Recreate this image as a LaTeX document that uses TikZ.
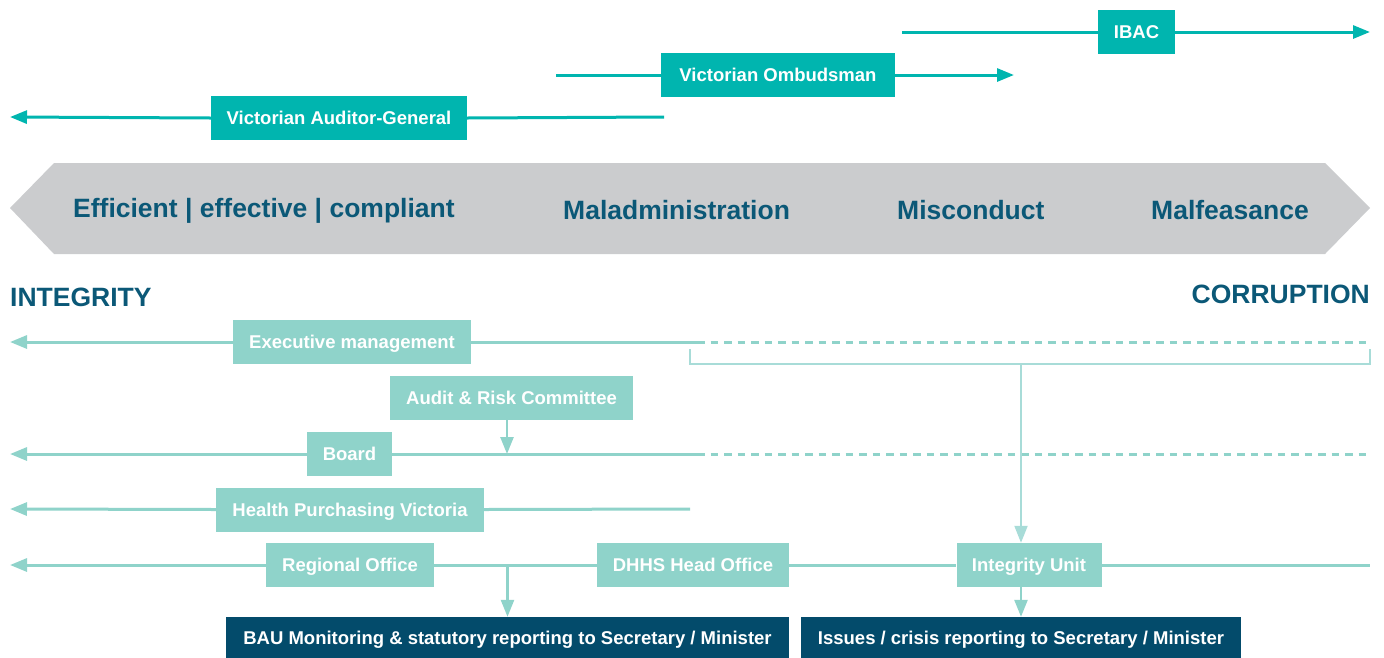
\documentclass[tikz,border=0pt]{standalone}
\usepackage{fontspec}
\setmainfont{Liberation Sans}
\usetikzlibrary{arrows.meta}
\definecolor{teal}{HTML}{00B5AF}
\definecolor{lteal}{HTML}{8FD3CA}
\definecolor{pteal}{HTML}{A8DCD8}
\definecolor{navy}{HTML}{034B6B}
\definecolor{band}{HTML}{CBCCCE}
\definecolor{bandtext}{HTML}{0B5877}
\tikzset{
  box/.style={inner sep=0pt, text=white, text height=16.6pt, text depth=3.4pt,
    font=\fontsize{18.5}{20}\selectfont\bfseries},
  topbox/.style={box, fill=teal},
  rolebox/.style={box, fill=lteal},
  reportbox/.style={box, fill=navy},
  tip/.style={-{Triangle[length=17pt,width=13pt]}},
  topline/.style={draw=teal, line width=3pt},
  roleline/.style={draw=lteal, line width=3pt},
  linkline/.style={draw=pteal, line width=2pt},
  dashline/.style={roleline, dash pattern=on 7.5pt off 6pt},
  bandlabel/.style={inner sep=0pt, anchor=base west, text=bandtext, font=\fontsize{26.5}{28}\selectfont\bfseries},
}
\begin{document}
\begin{tikzpicture}[x=1pt,y=-1pt]
\useasboundingbox (0,0) rectangle (1384,657);

% ---- oversight bodies ----
\node[topbox, minimum width=77pt, minimum height=44pt] (ibac) at (1136.5,32) {IBAC};
\node[topbox, minimum width=234pt, minimum height=44pt] (omb) at (778,75) {Victorian Ombudsman};
\node[topbox, minimum width=256pt, minimum height=44pt] (vag) at (339,118) {Victorian Auditor-General};

\coordinate (ibacL) at (902,32);
\coordinate (ibacR) at (1370,32);
\coordinate (ombL) at (556,75);
\coordinate (ombR) at (1014,75);
\coordinate (vagL) at (10,117);
\coordinate (vagR) at (664,117);

\draw[topline] (ibacL) -- (ibac.west);
\draw[topline, tip] (ibac.east) -- (ibacR);
\draw[topline] (ombL) -- (omb.west);
\draw[topline, tip] (omb.east) -- (ombR);
\draw[topline, tip] (vag.west) -- (vagL);
\draw[topline] (vag.east) -- (vagR);

% ---- spectrum band ----
\fill[band] (10,208) -- (54,163) -- (1325,163) -- (1370,208) -- (1325,254) -- (54,254) -- cycle;
\node[bandlabel] (eff) at (73,217) {Efficient | effective | compliant};
\node[bandlabel] (mal) at (563,219) {Maladministration};
\node[bandlabel] (mis) at (897,219) {Misconduct};
\node[bandlabel] (malf) at (1151,219) {Malfeasance};

\node[bandlabel] (integrity) at (10,306) {INTEGRITY};
\node[bandlabel, anchor=base east] (corruption) at (1370,303) {CORRUPTION};

% ---- governance roles ----
\node[rolebox, minimum width=238pt, minimum height=44pt] (exec) at (352,342) {Executive management};
\node[rolebox, minimum width=243pt, minimum height=44pt] (arc) at (511.5,398) {Audit \& Risk Committee};
\node[rolebox, minimum width=85pt, minimum height=44pt] (board) at (349.5,454) {Board};
\node[rolebox, minimum width=268pt, minimum height=44pt] (hpv) at (350,509.5) {Health Purchasing Victoria};
\node[rolebox, minimum width=168pt, minimum height=44pt] (reg) at (350,565) {Regional Office};
\node[rolebox, minimum width=192pt, minimum height=44pt] (dhhs) at (693,565) {DHHS Head Office};
\node[rolebox, minimum width=145pt, minimum height=44pt] (iu) at (1029,565) {Integrity Unit};

\node[reportbox, minimum width=563pt, minimum height=41pt] (bau) at (507.5,637.5) {BAU Monitoring \& statutory reporting to Secretary / Minister};
\node[reportbox, minimum width=440pt, minimum height=41pt] (iss) at (1021,637.5) {Issues / crisis reporting to Secretary / Minister};

% line end points
\coordinate (execL) at (10,342);
\coordinate (execM) at (697,342);
\coordinate (execR) at (1370,342);
\coordinate (boardL) at (10,454);
\coordinate (boardM) at (697,454);
\coordinate (boardR) at (1370,454);
\coordinate (hpvL) at (10,509);
\coordinate (hpvR) at (690,509);
\coordinate (rowL) at (10,565);
\coordinate (rowR) at (1370,565);
\coordinate (arcdrop) at (507,420);
\coordinate (brL) at (690,349);
\coordinate (brLb) at (690,364);
\coordinate (brRb) at (1370,364);
\coordinate (brR) at (1370,349);
\coordinate (brDrop) at (1021,364);

% executive management
\draw[roleline, tip] (exec.west) -- (execL);
\draw[roleline] (exec.east) -- (execM);
\draw[dashline] (execM) -- (execR);

% board
\draw[roleline, tip] (board.west) -- (boardL);
\draw[roleline] (board.east) -- (boardM);
\draw[dashline] (boardM) -- (boardR);
\draw[roleline, line width=2.5pt, tip] (arcdrop) -- (arcdrop |- board.east);

% health purchasing victoria
\draw[roleline, tip] (hpv.west) -- (hpvL);
\draw[roleline] (hpv.east) -- (hpvR);

% regional / head office / integrity unit row
\draw[roleline, tip] (reg.west) -- (rowL);
\draw[roleline] (reg.east) -- (dhhs.west);
\draw[roleline] (dhhs.east) -- (iu.west);
\draw[roleline] (iu.east) -- (rowR);
\draw[roleline, line width=2.5pt, tip] (bau.north |- reg.east) -- (bau.north);

% escalation bracket to the integrity unit
\draw[linkline] (brL) -- (brLb) -- (brRb) -- (brR);
\draw[linkline, tip] (brDrop) -- (brDrop |- iu.north);
\draw[roleline, line width=2.5pt, tip] (iss.north |- iu.south) -- (iss.north);
\end{tikzpicture}
\end{document}
